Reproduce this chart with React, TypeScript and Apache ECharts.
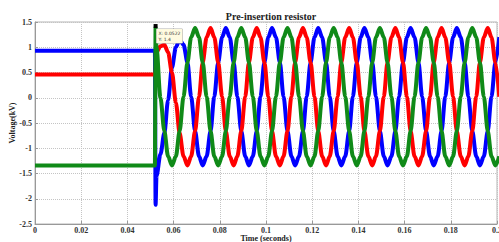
import React, { useEffect, useRef } from 'react';
import * as echarts from 'echarts';

const time = [
  0, 0.0519, 0.0522,
  0.0526, 0.0543, 0.0560, 0.0576, 0.0593, 0.0610, 0.0626, 0.0643, 0.0660, 0.0676,
  0.0693, 0.0710, 0.0726, 0.0743, 0.0760, 0.0776, 0.0793, 0.0810, 0.0826, 0.0843, 0.0860, 0.0876,
  0.0893, 0.0910, 0.0926, 0.0943, 0.0960, 0.0976, 0.0993, 0.1010, 0.1026, 0.1043, 0.1060, 0.1076,
  0.1093, 0.1110, 0.1126, 0.1143, 0.1160, 0.1176, 0.1193, 0.1210, 0.1226, 0.1243, 0.1260, 0.1276,
  0.1293, 0.1310, 0.1326, 0.1343, 0.1360, 0.1376, 0.1393, 0.1410, 0.1426, 0.1443, 0.1460, 0.1476,
  0.1493, 0.1510, 0.1526, 0.1543, 0.1560, 0.1576, 0.1593, 0.1610, 0.1626, 0.1643, 0.1660, 0.1676,
  0.1693, 0.1710, 0.1726, 0.1743, 0.1760, 0.1776, 0.1793, 0.1810, 0.1826, 0.1843, 0.1860, 0.1876,
  0.1893, 0.1910, 0.1926, 0.1943, 0.1960, 0.1976, 0.1993, 0.2010,
];

// Phase voltages (kV)
const phaseBlue = [
  0.93, 0.93, -2.12,
  -1.55, -1.12, -0.70, -0.05, 0.60, 1.00, 1.15, 1.05, 0.70, 0.02,
  -0.66, -1.16, -1.34, -1.16, -0.66, 0.02, 0.70, 1.20, 1.38, 1.20, 0.70, 0.02,
  -0.66, -1.16, -1.34, -1.16, -0.66, 0.02, 0.70, 1.20, 1.38, 1.20, 0.70, 0.02,
  -0.66, -1.16, -1.34, -1.16, -0.66, 0.02, 0.70, 1.20, 1.38, 1.20, 0.70, 0.02,
  -0.66, -1.16, -1.34, -1.16, -0.66, 0.02, 0.70, 1.20, 1.38, 1.20, 0.70, 0.02,
  -0.66, -1.16, -1.34, -1.16, -0.66, 0.02, 0.70, 1.20, 1.38, 1.20, 0.70, 0.02,
  -0.66, -1.16, -1.34, -1.16, -0.66, 0.02, 0.70, 1.20, 1.38, 1.20, 0.70, 0.02,
  -0.66, -1.16, -1.34, -1.16, -0.66, 0.02, 0.70, 1.20,
];

const phaseRed = [
  0.46, 0.46, 0.50,
  0.90, 1.02, 1.05, 0.90, 0.50, -0.10, -0.70, -1.16, -1.34, -1.16,
  -0.66, 0.02, 0.70, 1.20, 1.38, 1.20, 0.70, 0.02, -0.66, -1.16, -1.34, -1.16,
  -0.66, 0.02, 0.70, 1.20, 1.38, 1.20, 0.70, 0.02, -0.66, -1.16, -1.34, -1.16,
  -0.66, 0.02, 0.70, 1.20, 1.38, 1.20, 0.70, 0.02, -0.66, -1.16, -1.34, -1.16,
  -0.66, 0.02, 0.70, 1.20, 1.38, 1.20, 0.70, 0.02, -0.66, -1.16, -1.34, -1.16,
  -0.66, 0.02, 0.70, 1.20, 1.38, 1.20, 0.70, 0.02, -0.66, -1.16, -1.34, -1.16,
  -0.66, 0.02, 0.70, 1.20, 1.38, 1.20, 0.70, 0.02, -0.66, -1.16, -1.34, -1.16,
  -0.66, 0.02, 0.70, 1.20, 1.38, 1.20, 0.70, 0.02,
];

const phaseGreen = [
  -1.34, -1.34, 1.40,
  1.00, 0.00, -0.66, -1.16, -1.34, -1.16, -0.66, 0.02, 0.70, 1.20,
  1.38, 1.20, 0.70, 0.02, -0.66, -1.16, -1.34, -1.16, -0.66, 0.02, 0.70, 1.20,
  1.38, 1.20, 0.70, 0.02, -0.66, -1.16, -1.34, -1.16, -0.66, 0.02, 0.70, 1.20,
  1.38, 1.20, 0.70, 0.02, -0.66, -1.16, -1.34, -1.16, -0.66, 0.02, 0.70, 1.20,
  1.38, 1.20, 0.70, 0.02, -0.66, -1.16, -1.34, -1.16, -0.66, 0.02, 0.70, 1.20,
  1.38, 1.20, 0.70, 0.02, -0.66, -1.16, -1.34, -1.16, -0.66, 0.02, 0.70, 1.20,
  1.38, 1.20, 0.70, 0.02, -0.66, -1.16, -1.34, -1.16, -0.66, 0.02, 0.70, 1.20,
  1.38, 1.20, 0.70, 0.02, -0.66, -1.16, -1.34, -1.16,
];

const dataTip = { x: 0.0522, y: 1.42, text: 'X: 0.0522\nY: 1.4' };

const titleText = 'Pre-insertion resistor';
const xName = 'Time (seconds)';
const yName = 'Voltage(kV)';

export default function App() {
  const ref = useRef<HTMLDivElement>(null);
  useEffect(() => {
    const chart = echarts.init(ref.current as HTMLDivElement, null, { renderer: 'svg' });
    const serif = '"Liberation Serif", "Times New Roman", serif';
    const pairs = (vals: number[]) => time.map((t, i) => [t, vals[i]]);
    const lineSeries = (name: string, vals: number[], color: string, extra: any = {}) => ({
      name,
      type: 'line',
      data: pairs(vals),
      showSymbol: false,
      symbol: 'none',
      smooth: 0.3,
      smoothMonotone: 'x',
      clip: true,
      lineStyle: { color, width: 4 },
      itemStyle: { color },
      ...extra,
    });
    const labelStyle = {
      margin: 3,
      fontFamily: serif,
      fontWeight: 'bold',
      fontSize: 8,
      color: '#333',
      formatter: (v: number) => String(parseFloat(v.toFixed(2))),
    };
    chart.setOption({
      animation: false,
      backgroundColor: '#ffffff',
      title: {
        text: titleText,
        left: 266,
        top: 6,
        textAlign: 'center',
        textStyle: { fontFamily: serif, fontWeight: 'bold', fontSize: 10, color: '#222' },
      },
      grid: {
        left: 35,
        right: 2,
        top: 22,
        bottom: 18,
        show: true,
        borderColor: '#b5b5b5',
        borderWidth: 1,
        containLabel: false,
        outerBoundsMode: 'none',
      },
      xAxis: {
        type: 'value',
        min: 0,
        max: 0.2,
        interval: 0.02,
        name: xName,
        nameLocation: 'middle',
        nameGap: 10,
        nameMoveOverlap: false,
        nameTextStyle: { fontFamily: serif, fontWeight: 'bold', fontSize: 8, color: '#222' },
        axisLine: { show: true, onZero: false, lineStyle: { color: '#999', width: 1 } },
        axisTick: { show: true, inside: true, length: 3, lineStyle: { color: '#999' } },
        axisLabel: { ...labelStyle, margin: 2 },
        splitLine: { show: true, lineStyle: { color: '#c4c4c4', type: 'dotted', width: 1 } },
      },
      yAxis: {
        type: 'value',
        min: -2.5,
        max: 1.5,
        interval: 0.5,
        name: yName,
        nameLocation: 'middle',
        nameGap: 19,
        nameRotate: 90,
        nameMoveOverlap: false,
        nameTextStyle: { fontFamily: serif, fontWeight: 'bold', fontSize: 8, color: '#222' },
        axisLine: { show: true, onZero: false, lineStyle: { color: '#999', width: 1 } },
        axisTick: { show: true, inside: true, length: 3, lineStyle: { color: '#999' } },
        axisLabel: labelStyle,
        splitLine: { show: true, lineStyle: { color: '#c4c4c4', type: 'dotted', width: 1 } },
      },
      series: [
        lineSeries('Phase A', phaseBlue, '#0000ff'),
        lineSeries('Phase B', phaseRed, '#ff0000'),
        lineSeries('Phase C', phaseGreen, '#108a18', {
          markPoint: {
            symbol: 'rect',
            symbolSize: 4,
            silent: true,
            itemStyle: { color: '#000' },
            data: [
              {
                coord: [dataTip.x, dataTip.y],
                label: {
                  show: true,
                  formatter: dataTip.text,
                  position: [3, 5],
                  fontFamily: '"DejaVu Sans", sans-serif',
                  fontSize: 4.5,
                  lineHeight: 6,
                  color: '#333',
                  backgroundColor: '#fffbe0',
                  borderColor: '#aaa',
                  borderWidth: 0.5,
                  padding: [1, 2],
                  align: 'left',
                  verticalAlign: 'top',
                },
              },
            ],
          },
        }),
      ],
    });
    return () => chart.dispose();
  }, []);
  return (
    <div
      ref={ref}
      style={{ position: 'absolute', left: 0, top: 0, width: 499, height: 242 }}
    />
  );
}
